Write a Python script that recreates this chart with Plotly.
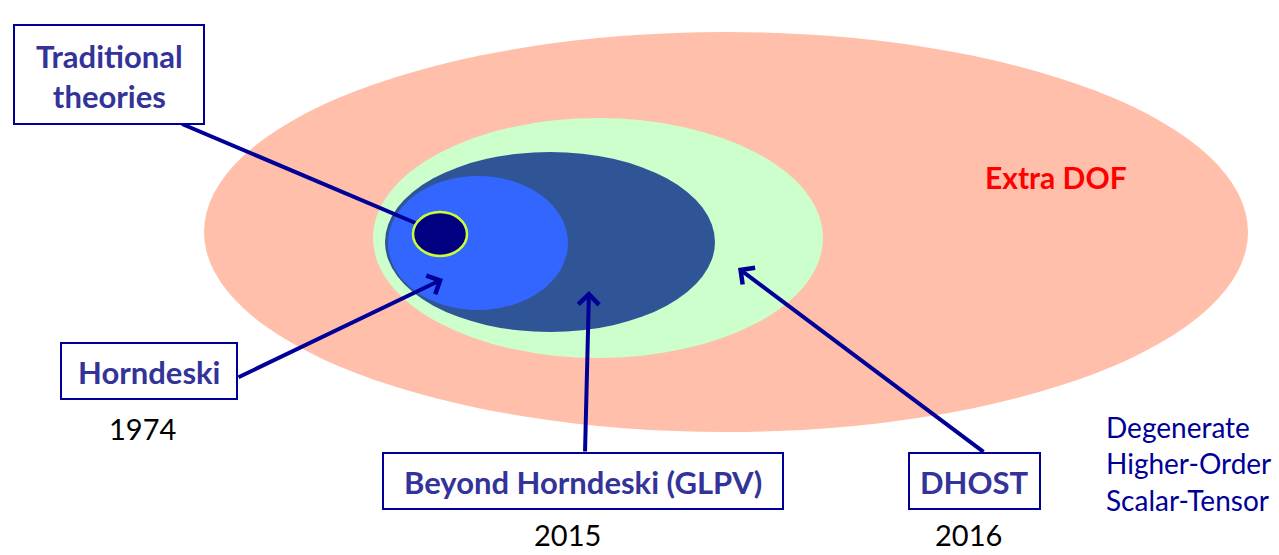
import plotly.graph_objects as go

W, H = 1279, 555

# Ellipses (set diagram): name, center x, center y, radius x, radius y
ell_names = ["Extra DOF", "DHOST", "Beyond Horndeski", "Horndeski", "Traditional"]
ell_cx = [726, 598, 550, 478, 440]
ell_cy = [232, 238, 242, 243, 234]
ell_rx = [522, 225, 165, 90, 27]
ell_ry = [200, 120, 90, 67, 22]
ell_fill = ["#FFBFAA", "#CCFFCC", "#2F5597", "#3366FF", "#000080"]
ell_line = [None, None, None, None, "#CCFF33"]

# Labelled boxes
box_text = ["Traditional<br>theories", "Horndeski", "Beyond Horndeski (GLPV)", "DHOST"]
box_x0 = [14, 61, 383, 909]
box_x1 = [204, 237, 783, 1040]
box_y0 = [25, 343, 453, 453]
box_y1 = [124, 399, 509, 509]

# Years
year_text = ["1974", "2015", "2016"]
year_x = [142, 567, 968]
year_y = [448, 554, 554]

# Arrows: tail -> head
arr_x0 = [237, 585, 985]
arr_y0 = [378, 453, 453]
arr_x1 = [443, 589, 738]
arr_y1 = [279, 291, 268]

NAVY = "#000099"
BOXTXT = "#333399"
FONT = "Lato, Carlito, Open Sans, sans-serif"

fig = go.Figure()
fig.add_trace(go.Scatter(x=[0, W], y=[0, H], mode="markers", marker=dict(opacity=0), hoverinfo="skip", showlegend=False))

shapes = []
for i in range(len(ell_names)):
    if i == 4:
        # line from the Traditional box, drawn beneath the small circle
        shapes.append(dict(type="line", xref="x", yref="y", x0=182, y0=124, x1=432, y1=230,
                           line=dict(color=NAVY, width=4)))
    shapes.append(dict(type="circle", xref="x", yref="y",
                       x0=ell_cx[i] - ell_rx[i], x1=ell_cx[i] + ell_rx[i],
                       y0=ell_cy[i] - ell_ry[i], y1=ell_cy[i] + ell_ry[i],
                       fillcolor=ell_fill[i],
                       line=dict(color=ell_line[i] or ell_fill[i], width=2.5 if ell_line[i] else 0)))
for i in range(len(box_text)):
    shapes.append(dict(type="rect", xref="x", yref="y", x0=box_x0[i], x1=box_x1[i],
                       y0=box_y0[i], y1=box_y1[i], fillcolor="white",
                       line=dict(color=NAVY, width=2)))

annotations = []
for i in range(len(box_text)):
    annotations.append(dict(x=(box_x0[i] + box_x1[i]) / 2, y=(box_y0[i] + box_y1[i]) / 2 + 1,
                            xref="x", yref="y", text="<b>" + box_text[i] + "</b>", showarrow=False,
                            font=dict(family=FONT, size=31, color=BOXTXT), align="center"))
for i in range(len(year_text)):
    annotations.append(dict(x=year_x[i], y=year_y[i], xref="x", yref="y", yanchor="bottom",
                            text=year_text[i], showarrow=False,
                            font=dict(family=FONT, size=29, color="black")))
annotations.append(dict(x=1056, y=177, xref="x", yref="y", text="<b>Extra DOF</b>", showarrow=False,
                        font=dict(family=FONT, size=30, color="#FF0000")))
annotations.append(dict(x=1104, y=463, xref="x", yref="y", xanchor="left",
                        text="Degenerate<br>Higher-Order<br>Scalar-Tensor", showarrow=False, align="left",
                        font=dict(family=FONT, size=28, color=NAVY)))
for i in range(len(arr_x0)):
    annotations.append(dict(x=arr_x1[i], y=arr_y1[i], ax=arr_x0[i], ay=arr_y0[i],
                            xref="x", yref="y", axref="x", ayref="y", text="",
                            showarrow=True, arrowhead=4, arrowsize=1, arrowwidth=4,
                            arrowcolor=NAVY, standoff=0, startstandoff=0))

fig.update_layout(
    width=W, height=H, margin=dict(l=0, r=0, t=0, b=0),
    paper_bgcolor="white", plot_bgcolor="white",
    xaxis=dict(range=[0, W], visible=False, fixedrange=True),
    yaxis=dict(range=[H, 0], visible=False, fixedrange=True),
    shapes=shapes, annotations=annotations, showlegend=False,
)
fig.write_html("out.html", post_script="document.body.style.margin='0';document.body.style.overflow='hidden';",
               config={"displayModeBar": False})
